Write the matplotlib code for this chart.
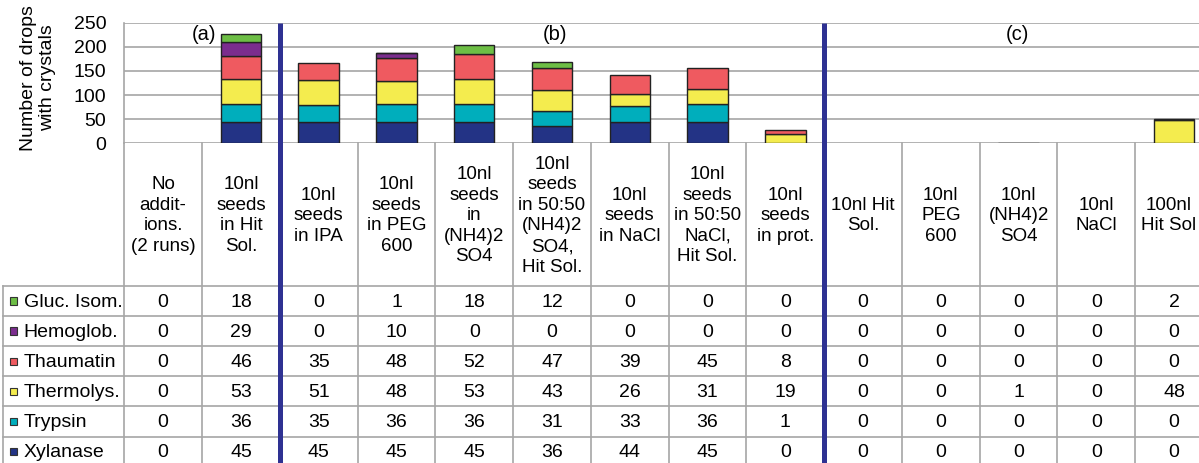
import numpy as np
import matplotlib
matplotlib.use('Agg')
import matplotlib.pyplot as plt

plt.rcParams['font.family'] = ['Liberation Sans', 'DejaVu Sans']

# column headers (conditions)
conditions = [
	"No\naddit-\nions.\n(2 runs)",
	"10nl\nseeds\nin Hit\nSol.",
	"10nl\nseeds\nin IPA",
	"10nl\nseeds\nin PEG\n600",
	"10nl\nseeds\nin\n(NH4)2\nSO4",
	"10nl\nseeds\nin 50:50\n(NH4)2\nSO4,\nHit Sol.",
	"10nl\nseeds\nin NaCl",
	"10nl\nseeds\nin 50:50\nNaCl,\nHit Sol.",
	"10nl\nseeds\nin prot.",
	"10nl Hit\nSol.",
	"10nl\nPEG\n600",
	"10nl\n(NH4)2\nSO4",
	"10nl\nNaCl",
	"100nl\nHit Sol",
]

# series, bottom of stack first
xylanase = [0, 45, 45, 45, 45, 36, 44, 45, 0, 0, 0, 0, 0, 0]
trypsin = [0, 36, 35, 36, 36, 31, 33, 36, 1, 0, 0, 0, 0, 0]
thermolys = [0, 53, 51, 48, 53, 43, 26, 31, 19, 0, 0, 1, 0, 48]
thaumatin = [0, 46, 35, 48, 52, 47, 39, 45, 8, 0, 0, 0, 0, 0]
hemoglob = [0, 29, 0, 10, 0, 0, 0, 0, 0, 0, 0, 0, 0, 0]
gluc_isom = [0, 18, 0, 1, 18, 12, 0, 0, 0, 0, 0, 0, 0, 2]

series_names = ['Xylanase', 'Trypsin', 'Thermolys.', 'Thaumatin', 'Hemoglob.', 'Gluc. Isom.']
series_vals = [xylanase, trypsin, thermolys, thaumatin, hemoglob, gluc_isom]
series_cols = ['#233385', '#00AEBC', '#F4EC4E', '#EF5A60', '#7B2D8E', '#6DBE45']

group_labels = ['(a)', '(b)', '(c)']

W, H = 1199, 463
fig = plt.figure(figsize=(W / 100, H / 100), dpi=100)

# layout in pixels
x0, x1 = 124.3, 1213.0
ytop, ybot = 22.7, 143.3
ncol = len(conditions)
colw = (x1 - x0) / ncol
row_top = 286.0
rowh = 30.1
grid_c = '#A6A6A6'
blue = '#2E3192'
fs = 13.5

ax = fig.add_axes([x0 / W, 1 - ybot / H, (x1 - x0) / W, (ybot - ytop) / H])
x = np.arange(ncol)
bottom = np.zeros(ncol)
for name, vals, c in zip(series_names, series_vals, series_cols):
	v = np.array(vals, dtype=float)
	m = v > 0
	ax.bar(x[m], v[m], 0.52, bottom=bottom[m], color=c, edgecolor='#222222', linewidth=1.0, zorder=3)
	bottom += v
ax.set_xlim(-0.5, ncol - 0.5)
ax.set_ylim(0, 250)
ax.set_yticks(np.arange(0, 251, 50))
ax.set_xticks([])
ax.grid(axis='y', color=grid_c, linewidth=1.2, zorder=0)
for s in ['top', 'right', 'bottom']:
	ax.spines[s].set_visible(False)
ax.spines['left'].set_color(grid_c)
ax.spines['left'].set_linewidth(1.2)
ax.tick_params(axis='y', length=0, pad=13, labelsize=fs + 0.5)

# overlay in pixel coordinates for the data table
ov = fig.add_axes([0, 0, 1, 1], zorder=5)
ov.set_xlim(0, W)
ov.set_ylim(H, 0)
ov.axis('off')

ov.text(38, 78, 'Number of drops\nwith crystals', rotation=90, ha='center', va='center',
		fontsize=fs + 0.5, linespacing=1.2)

# table grid
for k in range(ncol + 1):
	ov.plot([x0 + k * colw] * 2, [ybot, H + 5], color=grid_c, lw=1.2, zorder=1)
ov.plot([3.3, 3.3], [row_top, H + 5], color=grid_c, lw=1.2, zorder=1)
for r in range(len(series_names) + 1):
	yy = row_top + r * rowh
	ov.plot([3.3, x1], [yy, yy], color=grid_c, lw=1.2, zorder=1)

# headers
for i, lab in enumerate(conditions):
	xc = min(x0 + (i + 0.5) * colw, W - 30)
	ov.text(xc, (ybot + row_top) / 2 + 1, lab, ha='center', va='center',
			fontsize=fs, linespacing=1.28)

# rows: top row is the last series
for r, idx in enumerate(range(len(series_names) - 1, -1, -1)):
	yc = row_top + (r + 0.5) * rowh
	ov.add_patch(plt.Rectangle((10, yc - 3.7), 7.4, 7.4, facecolor=series_cols[idx],
							   edgecolor='#333333', lw=0.8, zorder=2))
	ov.text(23.5, yc + 1, series_names[idx], ha='left', va='center', fontsize=fs + 0.5)
	for i, v in enumerate(series_vals[idx]):
		ov.text(x0 + (i + 0.5) * colw, yc + 1, str(v), ha='center', va='center', fontsize=fs + 0.5)

# group separators
for k in [2, 9]:
	ov.plot([x0 + k * colw] * 2, [ytop, H + 5], color=blue, lw=3.6, zorder=4, solid_capstyle='butt')

for lab, px in zip(group_labels, [203.7, 555.0, 1017.0]):
	ov.text(px, 34, lab, ha='center', va='center', fontsize=fs + 1)

fig.savefig('out.png', dpi=100)
